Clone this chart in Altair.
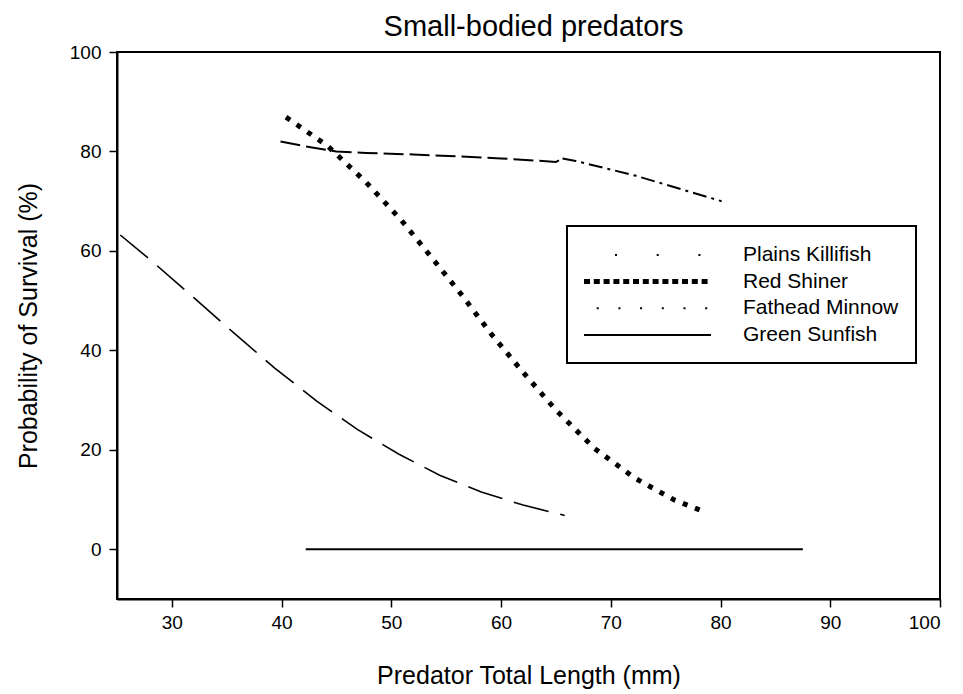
import altair as alt
import pandas as pd

# ---- data ----
series_names = ["Plains Killifish", "Red Shiner", "Fathead Minnow", "Green Sunfish"]

killifish_x = [25.3, 28.2, 32.0, 35.7, 39.4, 43.2, 46.9, 50.7, 54.4, 58.2, 62.0, 65.8]
killifish_y = [63.2, 57.9, 50.6, 43.4, 36.4, 29.8, 24.1, 19.1, 14.9, 11.5, 8.9, 6.8]

shiner_x = [40.4, 44.2, 47.7, 50.9, 53.7, 56.5, 59.1, 62.0, 65.0, 68.5, 72.2, 75.8, 78.7]
shiner_y = [86.9, 81.1, 73.8, 66.2, 58.6, 50.9, 43.3, 35.6, 28.0, 20.3, 14.3, 9.9, 7.4]

fathead_x_a = [39.9, 42.0, 45.0, 47.7, 52.0, 56.0, 60.0, 65.0, 65.6]
fathead_y_a = [82.0, 81.1, 80.0, 79.7, 79.4, 79.0, 78.6, 77.9, 78.6]
fathead_x_b = [65.6, 66.8, 72.3, 80.1]
fathead_y_b = [78.6, 78.1, 75.1, 70.0]

sunfish_x = [42.2, 87.5]
sunfish_y = [0.0, 0.0]

x_ticks = [30, 40, 50, 60, 70, 80, 90, 100]
y_ticks = [0, 20, 40, 60, 80, 100]

# legend sample dash patterns (as drawn in the reference legend);
# Red Shiner's thick sample is drawn by a second, overlaid legend
legend_dashes = [[0, 31, 2, 8.7], [0, 1000], [0, 12.7, 2, 7], [1, 0]]
shiner_legend_dash = [[6, 3.8]]

rows = []
def add(series, part, xs, ys):
    for i, (a, b) in enumerate(zip(xs, ys)):
        rows.append({"series": series, "part": part, "x": a, "y": b, "idx": i})

add("Plains Killifish", "killi", killifish_x, killifish_y)
add("Red Shiner", "shiner", shiner_x, shiner_y)
add("Fathead Minnow", "fathead_a", fathead_x_a, fathead_y_a)
add("Fathead Minnow", "fathead_b", fathead_x_b, fathead_y_b)
add("Green Sunfish", "sunfish", sunfish_x, sunfish_y)
df = pd.DataFrame(rows)

FONT = "Liberation Sans"
LINE_SYMBOL = "M-6,0H6"   # long horizontal legend sample
SYM_SIZE = 448

x_enc = alt.X("x:Q", scale=alt.Scale(domain=[25, 100], nice=False, zero=False),
              axis=alt.Axis(values=x_ticks, title="Predator Total Length (mm)",
                            titlePadding=31, labelPadding=6))
y_enc = alt.Y("y:Q", scale=alt.Scale(domain=[-10, 100], nice=False, zero=False),
              axis=alt.Axis(values=y_ticks, title="Probability of Survival (%)",
                            titlePadding=28, labelPadding=8))

base = alt.Chart(df)

def line(part, **kw):
    return base.transform_filter(alt.datum.part == part).mark_line(
        color="black", strokeCap="butt", **kw
    ).encode(x=x_enc, y=y_enc, order="idx:Q")

killi = line("killi", strokeWidth=1.6, strokeDash=[36, 12])
shiner = line("shiner", strokeWidth=5, strokeDash=[5, 8])
fat_a = line("fathead_a", strokeWidth=2, strokeDash=[20, 6])
fat_b = line("fathead_b", strokeWidth=2, strokeDash=[14, 5, 3, 5])
sunfish = line("sunfish", strokeWidth=2)

legend_df = pd.DataFrame({"series": series_names, "x": [25] * 4, "y": [0] * 4})

LX, LY, LPAD = 450, 174, 17

legend_a = alt.Chart(legend_df).transform_filter("false").mark_line(color="black").encode(
    x=alt.X("x:Q"),
    y=alt.Y("y:Q"),
    strokeDash=alt.StrokeDash(
        "series:N",
        scale=alt.Scale(domain=series_names, range=legend_dashes),
        legend=alt.Legend(
            title=None, orient="none", legendX=LX, legendY=LY,
            symbolType=LINE_SYMBOL, symbolSize=SYM_SIZE, symbolStrokeColor="black",
            symbolStrokeWidth=2, symbolOffset=51.5, symbolOpacity=1,
            labelFont=FONT, labelFontSize=21, labelColor="black",
            labelOffset=83.5, labelLimit=400, padding=LPAD, rowPadding=4.67,
            strokeColor="black", fillColor="white", zindex=1,
        ),
    ),
)

legend_b = alt.Chart(legend_df).transform_filter("false").mark_line(color="black").encode(
    x=alt.X("x:Q"),
    y=alt.Y("y:Q"),
    strokeDash=alt.StrokeDash(
        "series:N",
        scale=alt.Scale(domain=["Red Shiner"], range=shiner_legend_dash),
        legend=alt.Legend(
            title=None, orient="none", legendX=LX, legendY=LY + 24.9,
            symbolType=LINE_SYMBOL, symbolSize=SYM_SIZE, symbolStrokeColor="black",
            symbolStrokeWidth=5, symbolOffset=50, symbolOpacity=1,
            labelFont=FONT, labelFontSize=21, labelOpacity=0,
            labelOffset=83.5, padding=LPAD, zindex=2,
        ),
    ),
)

chart = alt.layer(killi, shiner, fat_a, fat_b, sunfish, legend_a, legend_b).resolve_scale(
    strokeDash="independent"
).resolve_legend(strokeDash="independent").properties(
    width=823, height=547,
    title=alt.TitleParams("Small-bodied predators", font=FONT, fontSize=29, fontWeight="normal",
                          color="black", anchor="middle", frame="group", offset=1, dx=5),
    autosize=alt.AutoSizeParams(type="none"),
    padding={"left": 109, "top": 44, "right": 15, "bottom": 92},
).configure_view(stroke="black", strokeWidth=2).configure_axis(
    domainColor="black", domainWidth=2, tickColor="black", tickWidth=1.5, tickSize=8,
    labelFont=FONT, labelFontSize=19, labelColor="black",
    titleFont=FONT, titleFontSize=25, titleFontWeight="normal", titleColor="black",
    grid=False,
).configure_legend(strokeWidth=2)

chart.save("out.html", embed_options={"renderer": "svg", "actions": False})
